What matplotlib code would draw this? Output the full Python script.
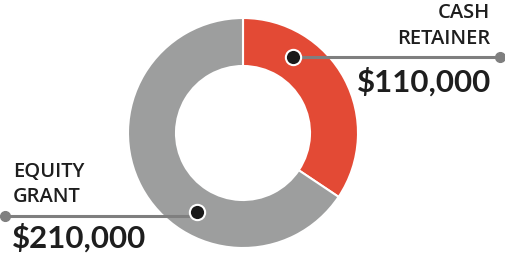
import numpy as np
import matplotlib.pyplot as plt

labels = ['CASH\nRETAINER', 'EQUITY\nGRANT']
values = [110000, 210000]
colors = ['#e34a35', '#9d9e9e']

W, H = 506, 264
cx, cy = 243, 131
r_out, r_in = 115, 67

fig = plt.figure(figsize=(W / 100, H / 100), dpi=100)
ax = fig.add_axes([0, 0, 1, 1])
ax.pie(values, colors=colors, startangle=90, counterclock=False,
       center=(cx, cy), radius=r_out,
       wedgeprops=dict(width=r_out - r_in, edgecolor='white', linewidth=1.5))
ax.set_xlim(0, W)
ax.set_ylim(0, H)
ax.set_aspect('equal')
ax.axis('off')

# marker dot angles along each wedge (fraction of wedge span)
total = sum(values)
spans = [v / total * 360 for v in values]
starts = [90, 90 - spans[0]]
fracs = [0.27, 0.366]
r_mid = 91
dots = []
for s, sp, f in zip(starts, spans, fracs):
    a = np.radians(s - sp * f)
    dots.append((cx + r_mid * np.cos(a), cy + r_mid * np.sin(a)))

line_col = '#7f7f7f'
txt_col = '#1e1e1e'
lab_kw = dict(fontsize=14.5, family='Open Sans', weight=600, color=txt_col)
amt_kw = dict(fontsize=22.5, family='Lato', weight='bold', color=txt_col)

# cash retainer callout
dx, dy = dots[0]
ax.plot([dx, 500], [dy, dy], color=line_col, lw=2.2, zorder=3)
ax.plot(500, dy, 'o', color=line_col, ms=7, zorder=4)
ax.plot(dx, dy, 'o', color='#1a1a1a', ms=11, mec='white', mew=1.5, zorder=5)
ax.text(490, H - 18, 'CASH', ha='right', va='baseline', **lab_kw)
ax.text(490, H - 44, 'RETAINER', ha='right', va='baseline', **lab_kw)
ax.text(491, H - 92, f'${values[0]:,}', ha='right', va='baseline', **amt_kw)

# equity grant callout
dx, dy = dots[1]
ax.plot([5, dx], [dy - 4, dy - 4], color=line_col, lw=2.2, zorder=3)
ax.plot(5, dy - 4, 'o', color=line_col, ms=7, zorder=4)
ax.plot(dx, dy, 'o', color='#1a1a1a', ms=11, mec='white', mew=1.5, zorder=5)
ax.text(13, H - 177, 'EQUITY', ha='left', va='baseline', **lab_kw)
ax.text(13, H - 202, 'GRANT', ha='left', va='baseline', **lab_kw)
ax.text(12, H - 248, f'${values[1]:,}', ha='left', va='baseline', **amt_kw)

fig.savefig('out.png', dpi=100)
